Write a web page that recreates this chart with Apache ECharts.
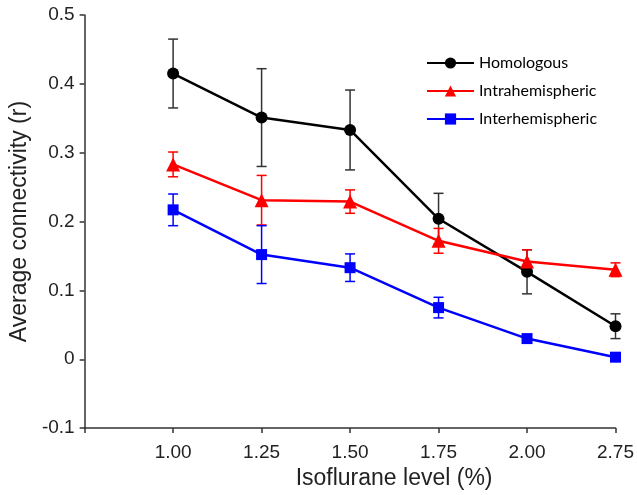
<!DOCTYPE html>
<html>
<head>
<meta charset="utf-8">
<script src="https://cdn.jsdelivr.net/npm/echarts@6/dist/echarts.min.js"></script>
<style>
html,body{margin:0;padding:0;background:#fff;}
#chart{width:637px;height:495px;}
</style>
</head>
<body>
<div id="chart"></div>
<script>
var categories = ['1.00', '1.25', '1.50', '1.75', '2.00', '2.75'];
var homologous = [0.415, 0.351, 0.333, 0.204, 0.127, 0.048];
var homologousErr = [0.050, 0.071, 0.058, 0.037, 0.032, 0.018];
var intrahemispheric = [0.283, 0.231, 0.229, 0.172, 0.142, 0.130];
var intrahemisphericErr = [0.018, 0.036, 0.017, 0.018, 0.017, 0.010];
var interhemispheric = [0.217, 0.152, 0.133, 0.075, 0.030, 0.003];
var interhemisphericErr = [0.023, 0.042, 0.020, 0.015, 0.004, 0.003];
var yTicks = [-0.1, 0, 0.1, 0.2, 0.3, 0.4, 0.5];

function pts(vals) {
  return vals.map(function (v, i) { return [i + 1, v]; });
}
function errPts(vals, errs) {
  return vals.map(function (v, i) { return [i + 1, v - errs[i], v + errs[i]]; });
}
function errSeries(name, vals, errs, color) {
  return {
    type: 'custom',
    name: name + ' err',
    z: 1,
    silent: true,
    data: errPts(vals, errs),
    encode: { x: 0, y: [1, 2] },
    renderItem: function (params, api) {
      var x = api.value(0);
      var lo = api.coord([x, api.value(1)]);
      var hi = api.coord([x, api.value(2)]);
      var hw = 5;
      var st = { stroke: color, lineWidth: 1.5, fill: null };
      return {
        type: 'group',
        children: [
          { type: 'line', shape: { x1: lo[0], y1: lo[1], x2: hi[0], y2: hi[1] }, style: st },
          { type: 'line', shape: { x1: lo[0] - hw, y1: lo[1], x2: lo[0] + hw, y2: lo[1] }, style: st },
          { type: 'line', shape: { x1: hi[0] - hw, y1: hi[1], x2: hi[0] + hw, y2: hi[1] }, style: st }
        ]
      };
    }
  };
}

var chart = echarts.init(document.getElementById('chart'), null, { renderer: 'canvas' });
var axisFont = 'Liberation Sans, Arial, sans-serif';
chart.setOption({
  animation: false,
  backgroundColor: '#fff',
  grid: { left: 83, right: 19, top: 15, bottom: 66 },
  legend: {
    orient: 'vertical',
    left: 421,
    top: 50,
    itemWidth: 47,
    itemHeight: 14,
    itemGap: 12,
    textStyle: { fontFamily: 'Lato, "Open Sans", sans-serif', fontSize: 16, color: '#000' },
    data: ['Homologous', 'Intrahemispheric', 'Interhemispheric']
  },
  xAxis: {
    type: 'value',
    min: 0,
    max: 6,
    interval: 1,
    name: 'Isoflurane level (%)',
    nameLocation: 'middle',
    nameGap: 31,
    nameTextStyle: { fontFamily: axisFont, fontSize: 23, color: '#222', padding: [0, 0, 0, 88] },
    axisLine: { onZero: false, lineStyle: { color: '#333', width: 1.5 } },
    axisTick: { length: 5, lineStyle: { color: '#333', width: 1.5 } },
    splitLine: { show: false },
    axisLabel: {
      fontFamily: axisFont, fontSize: 19, color: '#222', margin: 15,
      formatter: function (v) { return v >= 1 ? categories[v - 1] : ''; }
    }
  },
  yAxis: {
    type: 'value',
    min: yTicks[0],
    max: yTicks[yTicks.length - 1],
    interval: 0.1,
    name: 'Average connectivity (r)',
    nameLocation: 'middle',
    nameGap: 52,
    nameTextStyle: { fontFamily: axisFont, fontSize: 23, color: '#222' },
    axisLine: { show: true, onZero: false, lineStyle: { color: '#333', width: 1.5 } },
    axisTick: { show: true, length: 5, lineStyle: { color: '#333', width: 1.5 } },
    splitLine: { show: false },
    axisLabel: {
      fontFamily: axisFont, fontSize: 19, color: '#222', margin: 10,
      formatter: function (v) { return String(Number(v.toFixed(1))); }
    }
  },
  series: [
    errSeries('Homologous', homologous, homologousErr, '#333'),
    errSeries('Intrahemispheric', intrahemispheric, intrahemisphericErr, '#ff0000'),
    errSeries('Interhemispheric', interhemispheric, interhemisphericErr, '#0000ff'),
    {
      type: 'line', name: 'Homologous', data: pts(homologous), z: 3,
      symbol: 'circle', symbolSize: 12,
      lineStyle: { color: '#000', width: 2.5 },
      itemStyle: { color: '#000' }
    },
    {
      type: 'line', name: 'Intrahemispheric', data: pts(intrahemispheric), z: 3,
      symbol: 'triangle', symbolSize: 14,
      lineStyle: { color: '#ff0000', width: 2.5 },
      itemStyle: { color: '#ff0000' }
    },
    {
      type: 'line', name: 'Interhemispheric', data: pts(interhemispheric), z: 3,
      symbol: 'rect', symbolSize: 11,
      lineStyle: { color: '#0000ff', width: 2.5 },
      itemStyle: { color: '#0000ff' }
    }
  ]
});
</script>
</body>
</html>
